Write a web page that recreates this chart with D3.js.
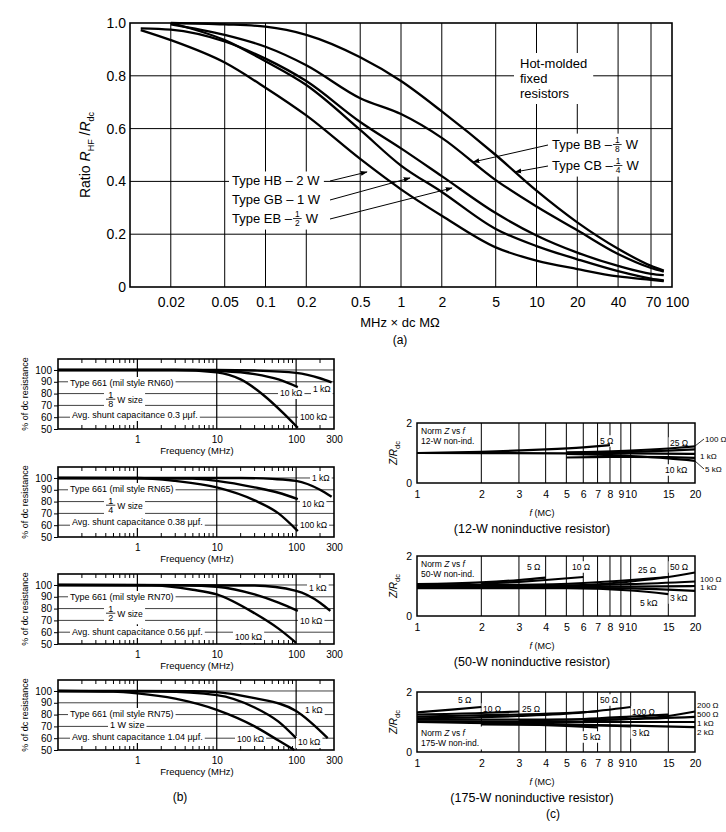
<!doctype html>
<html>
<head>
<meta charset="utf-8">
<title>Resistor HF behaviour</title>
<style>
  body { margin: 0; background: #fff; }
  svg { display: block; font-family: "Liberation Sans", Arial, sans-serif; }
</style>
</head>
<body>
<div id="vis"></div>
<script src="https://cdn.jsdelivr.net/npm/d3@7/dist/d3.min.js"></script>
<script>

// ---------- (a) hot-molded fixed resistors ----------
var aX   = [0.012, 0.02, 0.05, 0.1, 0.2, 0.5, 1, 2, 5, 10, 20, 40, 70, 87];
var aCB  = [null, 1.0, 0.995, 0.986, 0.955, 0.87, 0.78, 0.665, 0.50, 0.365, 0.245, 0.145, 0.08, 0.062];
var aBB  = [null, 0.995, 0.955, 0.91, 0.84, 0.715, 0.655, 0.565, 0.405, 0.305, 0.215, 0.125, 0.072, 0.058];
var aEB  = [0.98, 0.975, 0.93, 0.865, 0.78, 0.625, 0.525, 0.42, 0.28, 0.195, 0.13, 0.08, 0.05, 0.045];
var aGB  = [null, 1.0, 0.935, 0.855, 0.765, 0.595, 0.46, 0.36, 0.22, 0.155, 0.105, 0.06, 0.032, 0.025];
var aHB  = [0.973, 0.935, 0.85, 0.755, 0.65, 0.485, 0.37, 0.27, 0.15, 0.1, 0.068, 0.04, 0.027, 0.022];
var aGridX = [0.02, 0.05, 0.1, 0.2, 0.5, 1, 2, 5, 10, 20, 40, 70];
var aTickX = [0.02, 0.05, 0.1, 0.2, 0.5, 1, 2, 5, 10, 20, 40, 70, 100];
var aTickXLabels = ["0.02", "0.05", "0.1", "0.2", "0.5", "1", "2", "5", "10", "20", "40", "70", "100"];
var aTickY = [0, 0.2, 0.4, 0.6, 0.8, 1.0];
var aTickYLabels = ["0", "0.2", "0.4", "0.6", "0.8", "1.0"];

// ---------- (b) type 661 film resistors, % of dc resistance ----------
var bTypes = ["Type 661 (mil style RN60)", "Type 661 (mil style RN65)",
              "Type 661 (mil style RN70)", "Type 661 (mil style RN75)"];
var bSizeDen = ["8", "4", "2", null];
var bCaps = ["0.3", "0.38", "0.56", "1.04"];
var b1k = [
  [[0.1,100],[10,100],[30,99.5],[100,97.5],[200,93],[280,89.5]],
  [[0.1,100],[20,100],[50,99.2],[100,97.5],[200,90],[280,84]],
  [[0.1,100],[30,99.5],[100,95],[200,85],[270,78]],
  [[0.1,100],[5,99.8],[10,99],[30,94],[100,83],[250,60]]
];
var b10k = [
  [[0.1,100],[5,100],[10,99.3],[30,96.5],[60,92],[105,85.5]],
  [[0.1,100],[5,99.5],[10,97.5],[30,92],[60,87.5],[105,82]],
  [[0.1,100],[4,99.8],[10,98.5],[30,92],[60,85],[105,78]],
  [[0.1,100],[2,99.5],[10,96.5],[30,86],[60,74],[100,60]]
];
var b100k = [
  [[0.1,100],[3,100],[10,98],[20,92],[40,78],[70,63],[105,51]],
  [[0.1,100],[1,100],[3,97.5],[10,92],[30,81],[60,70],[105,55]],
  [[0.1,100],[1.5,99.7],[5,96],[10,92],[30,76],[60,63],[100,51]],
  [[0.1,100],[0.5,99.5],[1,98],[3,93.5],[10,84],[30,70],[60,58],[95,50]]
];
var bTickY = [50, 60, 70, 80, 90, 100];
var bTickX = [1, 10, 100, 300];
var bMinor = [0.2,0.3,0.4,0.5,0.6,0.7,0.8,0.9,2,3,4,5,6,7,8,9,20,30,40,50,60,70,80,90,200];

// ---------- (c) noninductive resistors, Z/Rdc vs f ----------
var c12 = [
  {name: "5 Ω",   pts: [[1,1.0],[2,1.04],[4,1.12],[6,1.19],[8,1.26]]},
  {name: "25 Ω",  pts: [[5,1.0],[10,1.04],[15,1.08],[20,1.12]]},
  {name: "100 Ω", pts: [[5,1.02],[10,1.08],[15,1.15],[20,1.22]]},
  {name: "1 kΩ",  pts: [[1,1.0],[5,0.99],[10,0.985],[20,0.97]]},
  {name: "10 kΩ", pts: [[5,0.85],[8,0.87],[10,0.87],[15,0.86],[20,0.84]]},
  {name: "5 kΩ",  pts: [[5,0.97],[10,0.9],[15,0.82],[20,0.74]]}
];
var c50 = [
  {name: "5 Ω",   pts: [[1,1.06],[2,1.12],[3,1.2],[4,1.28]]},
  {name: "10 Ω",  pts: [[2,1.08],[3,1.14],[4,1.2],[6,1.3]]},
  {name: "25 Ω",  pts: [[1,1.02],[3,1.04],[6,1.1],[10,1.2],[15,1.3]]},
  {name: "50 Ω",  pts: [[6,1.02],[10,1.15],[15,1.3],[20,1.45]]},
  {name: "100 Ω", pts: [[1,1.0],[5,1.02],[10,1.06],[20,1.15]]},
  {name: "1 kΩ",  pts: [[1,0.96],[5,0.97],[10,0.98],[20,1.0]]},
  {name: "3 kΩ",  pts: [[3,0.95],[10,0.92],[15,0.88],[20,0.84]]},
  {name: "5 kΩ",  pts: [[1,0.93],[5,0.93],[10,0.85],[15,0.73]]}
];
var c175 = [
  {name: "5 Ω",   pts: [[1,1.32],[1.5,1.42],[2,1.5]]},
  {name: "10 Ω",  pts: [[1,1.25],[2,1.3],[3,1.35]]},
  {name: "25 Ω",  pts: [[1,1.18],[3,1.25],[5,1.3],[7,1.35]]},
  {name: "50 Ω",  pts: [[1,1.12],[3,1.2],[6,1.32],[10,1.5]]},
  {name: "100 Ω", pts: [[3,1.05],[6,1.1],[10,1.18],[15,1.25]]},
  {name: "200 Ω", pts: [[6,1.05],[10,1.1],[15,1.2],[20,1.35]]},
  {name: "500 Ω", pts: [[1,1.08],[5,1.08],[10,1.1],[20,1.17]]},
  {name: "1 kΩ",  pts: [[1,1.02],[5,1.0],[10,1.0],[20,1.0]]},
  {name: "2 kΩ",  pts: [[2,0.92],[5,0.9],[10,0.88],[20,0.83]]},
  {name: "3 kΩ",  pts: [[2,0.97],[5,0.92],[8,0.88],[10,0.85]]},
  {name: "5 kΩ",  pts: [[1,1.0],[3,0.93],[5,0.87],[7,0.82]]}
];
var cTickX = [1, 2, 3, 4, 5, 6, 7, 8, 9, 10, 15, 20];
var cGridX = [2, 3, 4, 5, 6, 7, 8, 9, 10, 15];

var svg = d3.select("#vis").append("svg")
  .attr("width", 726).attr("height", 832);
svg.append("rect").attr("width", 726).attr("height", 832).attr("fill", "#fff");

svg.append("defs").append("marker")
  .attr("id", "arr").attr("viewBox", "0 0 10 10")
  .attr("refX", 9).attr("refY", 5)
  .attr("markerWidth", 7).attr("markerHeight", 7)
  .attr("markerUnits", "userSpaceOnUse")
  .attr("orient", "auto")
  .append("path").attr("d", "M0,1.5L10,5L0,8.5Z").attr("fill", "#000");

// stacked fraction, returns its width
function frac(g, x, y, num, den, fs) {
  var w = fs * 0.62;
  g.append("text").attr("x", x + w / 2).attr("y", y - fs * 0.42)
    .attr("text-anchor", "middle").attr("font-size", fs * 0.6).text(num);
  g.append("line").attr("x1", x).attr("x2", x + w)
    .attr("y1", y - fs * 0.32).attr("y2", y - fs * 0.32)
    .attr("stroke", "#000").attr("stroke-width", 0.8);
  g.append("text").attr("x", x + w / 2).attr("y", y + fs * 0.22)
    .attr("text-anchor", "middle").attr("font-size", fs * 0.6).text(den);
  return w;
}

// put a white box behind whatever build() draws
function boxed(parent, build, pad) {
  var g = parent.append("g");
  build(g);
  var b = g.node().getBBox();
  g.insert("rect", ":first-child")
    .attr("x", b.x - pad).attr("y", b.y - pad / 2)
    .attr("width", b.width + 2 * pad).attr("height", b.height + pad)
    .attr("fill", "#fff");
  return g;
}

function textW(g, x, y, str, fs) {
  var t = g.append("text").attr("x", x).attr("y", y).attr("font-size", fs).text(str);
  return t.node().getComputedTextLength();
}

// ================= panel (a) =================
var ax = d3.scaleLog().domain([0.01, 100]).range([130, 672]);
var ay = d3.scaleLinear().domain([0, 1]).range([287, 23]);
var pa = svg.append("g");

pa.selectAll(".gx").data(aGridX).enter().append("line")
  .attr("x1", d => ax(d)).attr("x2", d => ax(d))
  .attr("y1", ay(0)).attr("y2", ay(1))
  .attr("stroke", "#000").attr("stroke-width", 1);
pa.selectAll(".gy").data([0.2, 0.4, 0.6, 0.8]).enter().append("line")
  .attr("x1", ax(0.01)).attr("x2", ax(100))
  .attr("y1", d => ay(d)).attr("y2", d => ay(d))
  .attr("stroke", "#000").attr("stroke-width", 1);
pa.append("rect")
  .attr("x", ax(0.01)).attr("y", ay(1))
  .attr("width", ax(100) - ax(0.01)).attr("height", ay(0) - ay(1))
  .attr("fill", "none").attr("stroke", "#000").attr("stroke-width", 1.6);

var axA = pa.append("g").attr("transform", "translate(0," + ay(0) + ")")
  .call(d3.axisBottom(ax).tickValues(aTickX)
    .tickFormat((d, i) => aTickXLabels[i]).tickSize(0).tickPadding(10));
axA.select(".domain").remove();
axA.selectAll("text").attr("font-size", 14).attr("font-family", null);
// the last two labels sit a little apart in the original
axA.selectAll(".tick").filter(d => d === 100).select("text").attr("dx", 5);
axA.selectAll(".tick").filter(d => d === 70).select("text").attr("dx", 2);

var ayA = pa.append("g").attr("transform", "translate(" + ax(0.01) + ",0)")
  .call(d3.axisLeft(ay).tickValues(aTickY)
    .tickFormat((d, i) => aTickYLabels[i]).tickSize(0).tickPadding(4));
ayA.select(".domain").remove();
ayA.selectAll("text").attr("font-size", 14).attr("font-family", null);

// labels with white boxes
boxed(pa, function (g) {
  textW(g, 232, 185, "Type HB – 2 W", 13);
  textW(g, 232, 204, "Type GB – 1 W", 13);
  var w = textW(g, 232, 223, "Type EB – ", 13);
  var fw = frac(g, 232 + w + 1, 223, "1", "2", 14);
  textW(g, 232 + w + fw + 5, 223, "W", 13);
}, 3);
boxed(pa, function (g) {
  textW(g, 520, 68, "Hot-molded", 13);
  textW(g, 520, 83, "fixed", 13);
  textW(g, 520, 98, "resistors", 13);
}, 6);
boxed(pa, function (g) {
  var w = textW(g, 552, 149, "Type BB – ", 13);
  var fw = frac(g, 552 + w + 1, 149, "1", "8", 14);
  textW(g, 552 + w + fw + 5, 149, "W", 13);
  w = textW(g, 552, 170, "Type CB – ", 13);
  fw = frac(g, 552 + w + 1, 170, "1", "4", 14);
  textW(g, 552 + w + fw + 5, 170, "W", 13);
}, 3);

var aLine = d3.line()
  .defined(d => d[1] != null)
  .x(d => ax(d[0])).y(d => ay(d[1]))
  .curve(d3.curveMonotoneX);
[aCB, aBB, aEB, aGB, aHB].forEach(function (s) {
  pa.append("path")
    .datum(aX.map((x, i) => [x, s[i]]))
    .attr("d", aLine)
    .attr("fill", "none").attr("stroke", "#000").attr("stroke-width", 2.3);
});

var aArrows = [[330, 181, 367, 172], [330, 200, 410, 178], [330, 219, 452, 188],
               [548, 145, 473, 162], [548, 166, 515, 172]];
pa.selectAll(".arrow").data(aArrows).enter().append("line")
  .attr("x1", d => d[0]).attr("y1", d => d[1]).attr("x2", d => d[2]).attr("y2", d => d[3])
  .attr("stroke", "#000").attr("stroke-width", 1).attr("marker-end", "url(#arr)");

var yla = pa.append("text").attr("transform", "translate(90,155) rotate(-90)")
  .attr("text-anchor", "middle").attr("font-size", 14);
yla.append("tspan").text("Ratio ");
yla.append("tspan").attr("font-style", "italic").text("R");
yla.append("tspan").attr("font-size", 9).attr("dy", 4).text("HF");
yla.append("tspan").attr("dy", -4).text(" /");
yla.append("tspan").attr("font-style", "italic").text("R");
yla.append("tspan").attr("font-size", 9).attr("dy", 4).text("dc");

pa.append("text").attr("x", 400).attr("y", 327).attr("text-anchor", "middle")
  .attr("font-size", 13).text("MHz × dc MΩ");
pa.append("text").attr("x", 400).attr("y", 344).attr("text-anchor", "middle")
  .attr("font-size", 12).text("(a)");

// ================= panel (b) =================
var bTops = [359, 467, 574, 680];
var bH = 70;
var bx = d3.scaleLog().domain([0.1, 300]).range([58, 334]);
var bLab = [
  [[313, 33], [280, 37], [300, 61]],
  [[312, 14], [302, 40], [300, 61]],
  [[309, 17], [300, 50], [235, 66]],
  [[305, 33], [298, 65], [237, 62]]
];
var bTxtY = [[27, 44, 59], [25, 42, 58], [26, 43, 61], [37, 48, 60]];

bTops.forEach(function (top, k) {
  var by = d3.scaleLinear().domain([50, 109.3]).range([top + bH, top]);
  var g = svg.append("g");

  g.selectAll(".gy").data([60, 70, 80, 90, 100]).enter().append("line")
    .attr("x1", bx(0.1)).attr("x2", bx(300))
    .attr("y1", d => by(d)).attr("y2", d => by(d))
    .attr("stroke", "#111").attr("stroke-width", 0.8);
  g.selectAll(".gx").data([1, 10, 100]).enter().append("line")
    .attr("x1", d => bx(d)).attr("x2", d => bx(d))
    .attr("y1", top).attr("y2", top + bH)
    .attr("stroke", "#000").attr("stroke-width", 1.2);
  g.selectAll(".mt").data(bMinor).enter().append("line")
    .attr("x1", d => bx(d)).attr("x2", d => bx(d))
    .attr("y1", top).attr("y2", top + 4)
    .attr("stroke", "#000").attr("stroke-width", 1);
  g.selectAll(".mb").data(bMinor).enter().append("line")
    .attr("x1", d => bx(d)).attr("x2", d => bx(d))
    .attr("y1", top + bH - 4).attr("y2", top + bH)
    .attr("stroke", "#000").attr("stroke-width", 1);
  g.append("rect").attr("x", bx(0.1)).attr("y", top)
    .attr("width", bx(300) - bx(0.1)).attr("height", bH)
    .attr("fill", "none").attr("stroke", "#000").attr("stroke-width", 1.6);

  var yA = g.append("g").attr("transform", "translate(" + bx(0.1) + ",0)")
    .call(d3.axisLeft(by).tickValues(bTickY).tickSize(4).tickPadding(2));
  yA.select(".domain").remove();
  yA.selectAll("text").attr("font-size", 10).attr("font-family", null);
  yA.selectAll("line").attr("stroke-width", 1);

  var xA = g.append("g").attr("transform", "translate(0," + (top + bH) + ")")
    .call(d3.axisBottom(bx).tickValues(bTickX).tickFormat(d3.format("d")).tickSize(0).tickPadding(7));
  xA.select(".domain").remove();
  xA.selectAll("text").attr("font-size", 10).attr("font-family", null);

  g.append("text").attr("x", 197).attr("y", top + bH + 25).attr("text-anchor", "middle")
    .attr("font-size", 9.5).text("Frequency (MHz)");
  g.append("text").attr("transform", "translate(28," + (top + bH / 2) + ") rotate(-90)")
    .attr("text-anchor", "middle").attr("font-size", 9).text("% of dc resistance");

  var ty = bTxtY[k];
  boxed(g, function (t) { textW(t, 70, top + ty[0], bTypes[k], 9); }, 2);
  boxed(g, function (t) {
    if (bSizeDen[k]) {
      var fw = frac(t, 106, top + ty[1] + 1, "1", bSizeDen[k], 15);
      textW(t, 106 + fw + 2, top + ty[1], "W size", 8.5);
    } else {
      textW(t, 110, top + ty[1], "1 W size", 9);
    }
  }, 2);
  boxed(g, function (t) {
    textW(t, 72, top + ty[2], "Avg. shunt capacitance " + bCaps[k] + " μμf.", 9);
  }, 2);

  var names = ["1 kΩ", "10 kΩ", "100 kΩ"];
  bLab[k].forEach(function (p, j) {
    boxed(g, function (t) { textW(t, p[0], top + p[1], names[j], 8.5); }, 2);
  });

  var line = d3.line().x(d => bx(d[0])).y(d => by(d[1])).curve(d3.curveMonotoneX);
  [b1k[k], b10k[k], b100k[k]].forEach(function (s) {
    g.append("path").datum(s).attr("d", line)
      .attr("fill", "none").attr("stroke", "#000").attr("stroke-width", 2.4);
  });
});

svg.append("text").attr("x", 180).attr("y", 801).attr("text-anchor", "middle")
  .attr("font-size", 12).text("(b)");

// ================= panel (c) =================
var cx = d3.scaleLog().domain([1, 20]).range([417, 695]);
var cH = 60;
var cPanels = [
  {top: 423, data: c12, watt: "12-W non-ind.", title: "(12-W noninductive resistor)",
   inside: [["5 Ω", 600, 444], ["25 Ω", 670, 446], ["10 kΩ", 665, 473]],
   outside: [["100 Ω", 705, 442, 446], ["1 kΩ", 700, 459, null], ["5 kΩ", 705, 472, 461]]},
  {top: 556, data: c50, watt: "50-W non-ind.", title: "(50-W noninductive resistor)",
   inside: [["5 Ω", 527, 570], ["10 Ω", 572, 570], ["25 Ω", 638, 573], ["50 Ω", 670, 570],
            ["5 kΩ", 640, 606], ["3 kΩ", 670, 601]],
   outside: [["100 Ω", 700, 582, null], ["1 kΩ", 700, 590, null]]},
  {top: 692, data: c175, watt: "175-W non-ind.", title: "(175-W noninductive resistor)",
   inside: [["5 Ω", 458, 703], ["10 Ω", 483, 712], ["25 Ω", 522, 712], ["50 Ω", 600, 703],
            ["100 Ω", 632, 715], ["5 kΩ", 583, 740], ["3 kΩ", 632, 736]],
   outside: [["200 Ω", 697, 708, null], ["500 Ω", 697, 717, null], ["1 kΩ", 697, 726, null],
             ["2 kΩ", 697, 735, null]]}
];

cPanels.forEach(function (p) {
  var top = p.top;
  var cy = d3.scaleLinear().domain([0, 2]).range([top + cH, top]);
  var g = svg.append("g");

  g.selectAll(".gx").data(cGridX).enter().append("line")
    .attr("x1", d => cx(d)).attr("x2", d => cx(d))
    .attr("y1", top).attr("y2", top + cH)
    .attr("stroke", "#000").attr("stroke-width", 1);
  g.append("rect").attr("x", cx(1)).attr("y", top)
    .attr("width", cx(20) - cx(1)).attr("height", cH)
    .attr("fill", "none").attr("stroke", "#000").attr("stroke-width", 1.5);

  var yA = g.append("g").attr("transform", "translate(" + cx(1) + ",0)")
    .call(d3.axisLeft(cy).tickValues([0, 2]).tickFormat(d3.format("d")).tickSize(0).tickPadding(5));
  yA.select(".domain").remove();
  yA.selectAll("text").attr("font-size", 10.5).attr("font-family", null);

  var xA = g.append("g").attr("transform", "translate(0," + (top + cH) + ")")
    .call(d3.axisBottom(cx).tickValues(cTickX).tickFormat(d3.format("d")).tickSize(0).tickPadding(8));
  xA.select(".domain").remove();
  xA.selectAll("text").attr("font-size", 10.5).attr("font-family", null);

  var fl = g.append("text").attr("x", 542).attr("y", top + cH + 33)
    .attr("text-anchor", "middle").attr("font-size", 9);
  fl.append("tspan").attr("font-style", "italic").text("f");
  fl.append("tspan").text(" (MC)");
  g.append("text").attr("x", 532).attr("y", top + cH + 50)
    .attr("text-anchor", "middle").attr("font-size", 12.5).text(p.title);

  var yl = g.append("text").attr("transform", "translate(397," + (top + cH / 2) + ") rotate(-90)")
    .attr("text-anchor", "middle").attr("font-size", 10);
  yl.append("tspan").attr("font-style", "italic").text("Z/R");
  yl.append("tspan").attr("font-size", 7.5).attr("dy", 3).text("dc");

  // "Norm Z vs f" box
  var ny = (p.top === 692) ? top + 44 : top + 11;
  boxed(g, function (t) {
    var n = t.append("text").attr("x", 421).attr("y", ny).attr("font-size", 8.5);
    n.append("tspan").text("Norm ");
    n.append("tspan").attr("font-style", "italic").text("Z");
    n.append("tspan").text(" vs ");
    n.append("tspan").attr("font-style", "italic").text("f");
    t.append("text").attr("x", 421).attr("y", ny + 10).attr("font-size", 8.5).text(p.watt);
  }, 3);

  p.inside.forEach(function (l) {
    boxed(g, function (t) { textW(t, l[1], l[2], l[0], 8.5); }, 1.5);
  });

  var line = d3.line().x(d => cx(d[0])).y(d => cy(d[1])).curve(d3.curveMonotoneX);
  p.data.forEach(function (s) {
    g.append("path").datum(s.pts).attr("d", line)
      .attr("fill", "none").attr("stroke", "#000").attr("stroke-width", 2.2);
  });

  p.outside.forEach(function (l) {
    textW(g, l[1], l[2], l[0], 8);
    if (l[3] != null) {
      g.append("line").attr("x1", cx(20)).attr("y1", l[3])
        .attr("x2", l[1] - 1).attr("y2", l[2] - 3)
        .attr("stroke", "#000").attr("stroke-width", 0.8);
    }
  });
});

svg.append("text").attr("x", 553).attr("y", 818).attr("text-anchor", "middle")
  .attr("font-size", 12).text("(c)");

</script>
</body>
</html>
